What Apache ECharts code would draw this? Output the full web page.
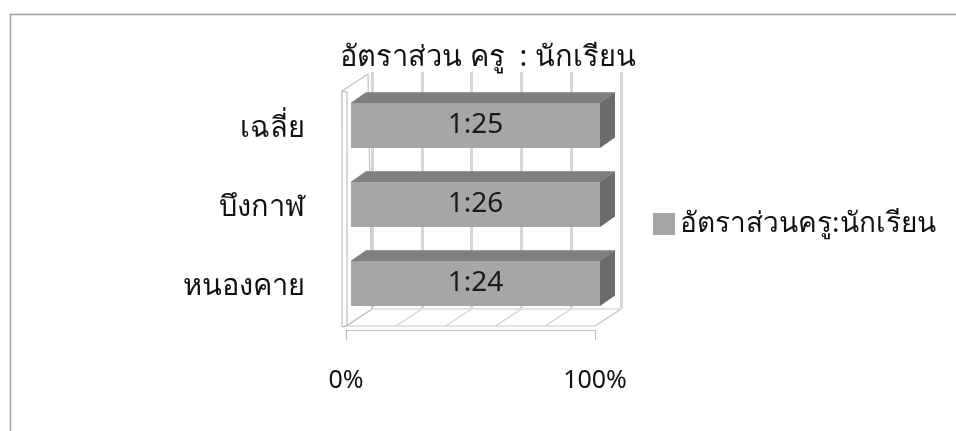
<!DOCTYPE html>
<html><head><meta charset="utf-8">
<script src="https://cdn.jsdelivr.net/npm/echarts@6/dist/echarts.min.js"></script>
<style>html,body{margin:0;padding:0;background:#fff}#c{width:956px;height:431px}</style>
</head><body><div id="c"></div>
<script>
// ---- data ----
const titleText = 'อัตราส่วน ครู  : นักเรียน';
const seriesName = 'อัตราส่วนครู:นักเรียน';
const categories = ['หนองคาย', 'บึงกาฬ', 'เฉลี่ย'];      // bottom -> top
const studentsPerTeacher = [24, 26, 25];
const shareValues = [100, 100, 100];                      // single series, 100% stacked
const gridTicks = [0, 20, 40, 60, 80, 100];
const xTickLabels = { 0: '0%', 100: '100%' };

// ---- layout / style ----
const FONT = '"Noto Sans", "DejaVu Sans", sans-serif';
const DX = 26, DY = -17;          // 3D depth offset of back wall
const BAR_DX = 15, BAR_DY = -10.5;

const chart = echarts.init(document.getElementById('c'), null, { renderer: 'canvas' });

function renderFrame(params, api) {
  const cs = params.coordSys;
  const x0 = cs.x, x1 = cs.x + cs.width, yT = cs.y, yB = cs.y + cs.height;
  const children = [];
  // floor
  children.push({ type: 'polygon', shape: { points: [[x0, yB], [x1, yB], [x1 + DX, yB + DY], [x0 + DX, yB + DY]] },
    style: { fill: '#fff', stroke: '#c8c8c8', lineWidth: 1.2 } });
  gridTicks.forEach(t => {
    const p = api.coord([t, 0]);
    children.push({ type: 'line', shape: { x1: p[0], y1: yB, x2: p[0] + DX, y2: yB + DY },
      style: { stroke: '#d0d0d0', lineWidth: 1.2 } });
  });
  // left wall
  children.push({ type: 'polygon', shape: { points: [[x0 - 4, yT + 2], [x0 - 4 + DX, yT + 2 + DY], [x0 + DX, yB + DY], [x0, yB]] },
    style: { fill: '#fff', stroke: '#c0c0c0', lineWidth: 1.2 } });
  children.push({ type: 'polygon', shape: { points: [[x0 - 4, yT + 2], [x0 + 1, yT + 3], [x0 + 1, yB], [x0 - 4, yB + 1]] },
    style: { fill: '#fff', stroke: '#b0b0b0', lineWidth: 1 } });
  return { type: 'group', children };
}

function renderBar(params, api) {
  const v = api.value(0), cat = api.value(1), ratio = api.value(2);
  const p0 = api.coord([0, cat]);
  const p1 = api.coord([v, cat]);
  const band = api.size([0, 1])[1];
  const h = band * 0.57;
  const x0 = p0[0] + 5, x1 = p1[0] + 5;
  const cy = p0[1] - 3;
  const yt = cy - h / 2, yb = cy + h / 2;
  return { type: 'group', children: [
    { type: 'polygon', shape: { points: [[x0, yt], [x1, yt], [x1 + BAR_DX, yt + BAR_DY], [x0 + BAR_DX, yt + BAR_DY]] },
      style: { fill: '#7f7f7f', stroke: '#777', lineWidth: 0.5 } },
    { type: 'polygon', shape: { points: [[x1, yt], [x1 + BAR_DX, yt + BAR_DY], [x1 + BAR_DX, yb + BAR_DY], [x1, yb]] },
      style: { fill: '#6b6b6b' } },
    { type: 'rect', shape: { x: x0, y: yt, width: x1 - x0, height: h },
      style: { fill: '#a6a6a6' } },
    { type: 'text', style: { text: '1:' + ratio, x: (x0 + x1) / 2, y: cy, align: 'center', verticalAlign: 'middle',
      fontSize: 28, fontFamily: FONT, fill: '#1a1a1a' } }
  ] };
}

chart.setOption({
  animation: false,
  backgroundColor: '#fff',
  graphic: [{ type: 'rect', left: 8, top: 12, shape: { width: 1200, height: 800 },
    style: { fill: 'none', stroke: '#a0a0a0', lineWidth: 1.5 }, silent: true, z: -10 }],
  title: { text: titleText, left: 335, top: 38,
    textStyle: { fontSize: 29, fontWeight: 'normal', color: '#111', fontFamily: FONT } },
  legend: { data: [{ name: seriesName, icon: 'rect' }], left: 648, top: 205, itemWidth: 22, itemHeight: 22, itemGap: 10,
    textStyle: { fontSize: 28, color: '#111', fontFamily: FONT } },
  grid: [
    { left: 346, width: 249, top: 89, bottom: 105 },   // front plane
    { left: 372, width: 249, top: 72, bottom: 123 }    // back wall
  ],
  xAxis: [
    { gridIndex: 0, type: 'value', min: 0, max: 100, interval: 100, offset: 4,
      axisLine: { show: true, lineStyle: { color: '#bfbfbf', width: 1.2 } },
      axisTick: { show: true, length: 10, lineStyle: { color: '#bfbfbf', width: 1.2 } },
      splitLine: { show: false },
      axisLabel: { margin: 38, fontSize: 25, color: '#111', fontFamily: FONT, formatter: v => xTickLabels[v] || '' } },
    { gridIndex: 1, type: 'value', min: 0, max: 100, interval: 20,
      axisLine: { show: false }, axisTick: { show: false }, axisLabel: { show: false },
      splitLine: { show: true, lineStyle: { color: '#d6d6d6', width: 3 } } }
  ],
  yAxis: [
    { gridIndex: 0, type: 'category', data: categories,
      axisLine: { show: false }, axisTick: { show: false },
      axisLabel: { margin: 41, fontSize: 29, color: '#111', fontFamily: FONT } },
    { gridIndex: 1, type: 'category', data: categories, show: false }
  ],
  series: [
    { type: 'custom', name: 'frame', xAxisIndex: 0, yAxisIndex: 0, z: 1, silent: true,
      renderItem: renderFrame, data: [[0, 0]], encode: { x: 0, y: 1 } },
    { type: 'custom', name: seriesName, xAxisIndex: 0, yAxisIndex: 0, z: 3,
      itemStyle: { color: '#a6a6a6' },
      renderItem: renderBar,
      data: shareValues.map((v, i) => [v, i, studentsPerTeacher[i]]),
      encode: { x: 0, y: 1 } }
  ]
});
</script>
</body></html>
